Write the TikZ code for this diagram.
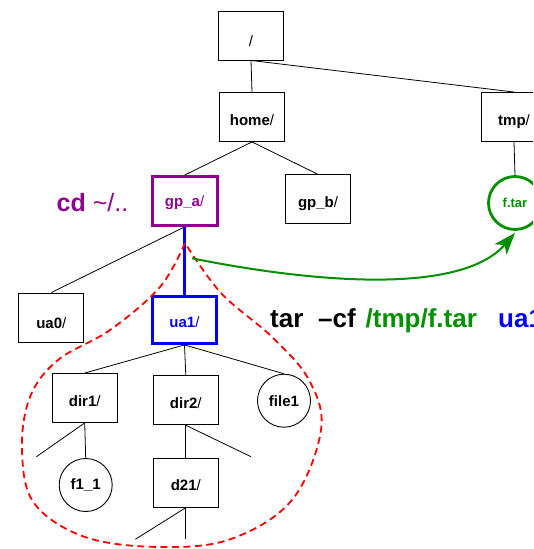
\documentclass[tikz,border=0pt]{standalone}
\usepackage{fontspec}
\setmainfont{Liberation Sans}
\usetikzlibrary{arrows.meta}
\definecolor{figpurple}{RGB}{144,0,144}
\definecolor{figgreen}{RGB}{0,144,0}
\newcommand\lblfont{\fontsize{15}{18}\selectfont}
\newcommand\dlabel[1]{\textbf{#1}/}
\begin{document}
\begin{tikzpicture}[x=1pt,y=-1pt,
  dirbox/.style={draw=black, line width=0.9pt, minimum width=65pt, minimum height=49pt,
    inner sep=0pt, text height=16pt, text depth=0pt, font=\lblfont},
  filecirc/.style={draw=black, circle, line width=0.9pt, minimum size=53pt,
    inner sep=0pt, font=\lblfont\bfseries},
  edge/.style={black, line width=0.8pt},
  bigtext/.style={anchor=base west, inner sep=0pt, font=\fontsize{26}{30}\selectfont\bfseries}
]
\useasboundingbox (0,0) rectangle (533,549);
\clip (0,0) rectangle (533,549);

% directory tree
\node[dirbox, text height=21pt] (root) at (251,35.5) {/};
\node[dirbox] (home) at (252,117) {\dlabel{home}};
\node[dirbox] (tmp) at (514,117) {\dlabel{tmp}};
\node[dirbox, draw=figpurple, line width=2.8pt, text=figpurple, text height=10pt] (gpa) at (184.6,201) {\dlabel{gp\_a}};
\node[dirbox] (gpb) at (318,199.3) {\dlabel{gp\_b}};
\node[filecirc, draw=figgreen, line width=2.8pt, text=figgreen, font=\fontsize{13}{15}\selectfont\bfseries] (ftar) at (515,203) {f.tar};
\node[dirbox, text height=22pt] (ua0) at (51.3,317.5) {\dlabel{ua0}};
\node[dirbox, draw=blue, line width=2.8pt, text=blue, minimum width=63.5pt, minimum height=47pt, text height=14pt] (ua1) at (184.5,320) {\dlabel{ua1}};
\node[dirbox] (dir1) at (84.7,398) {\dlabel{dir1}};
\node[dirbox] (dir2) at (185.8,400.3) {\dlabel{dir2}};
\node[filecirc] (file1) at (284,400.7) {file1};
\node[filecirc] (f11) at (85.7,485) {f1\_1};
\node[dirbox] (d21) at (185.8,482.7) {\dlabel{d21}};

% loose branch ends
\coordinate (dir1x) at (36.4,456.7);
\coordinate (dir2x) at (251,456.7);
\coordinate (d21x) at (135.3,539.3);
\coordinate (d21y) at (185.8,539.3);
\coordinate (gs) at (192,258.3);

\draw[edge] (root.south) -- (home.north);
\draw[edge] (root.south) -- (tmp.north);
\draw[edge] (home.south) -- (gpa.north);
\draw[edge] (home.south) -- (gpb.north);
\draw[edge] (tmp.south) -- (ftar.north);
\draw[edge] (gpa.south) -- (ua0.north);
\draw[blue, line width=2.8pt] (gpa.south) -- (ua1.north);
\draw[edge] (ua1.south) -- (dir1.north);
\draw[edge] (ua1.south) -- (dir2.north);
\draw[edge] (ua1.south) -- (file1.north);
\draw[edge] (dir1.south) -- (dir1x);
\draw[edge] (dir1.south) -- (f11.north);
\draw[edge] (dir2.south) -- (d21.north);
\draw[edge] (dir2.south) -- (dir2x);
\draw[edge] (d21.south) -- (d21x);
\draw[edge] (d21.south) -- (d21y);

% subtree that gets archived
\draw[red, line width=1.8pt, dash pattern=on 7pt off 4.5pt] plot[smooth, tension=0.6] coordinates {
  (185,243) (160,287) (110,330) (58,360) (30,397) (22,450) (34,503) (85,537)
  (160,547) (231,539) (292,500) (321,430) (309,380) (272,337) (221,293) (185,243)};

% archive arrow
\draw[figgreen, line width=2pt, -{Stealth[length=22pt, width=16pt, inset=6pt]}]
  (gs) .. controls (320,284) and (462,294) .. ([yshift=-2pt]ftar.south);

% commands
\node[anchor=base west, inner sep=0pt, text=figpurple, font=\fontsize{25}{30}\selectfont] (cdcmd) at (56.5,211.5) {\textbf{cd} \textasciitilde/..};
\node[bigtext] (cmdtar) at (270,327) {tar};
\node[bigtext] (cmdopt) at (318,327) {\textendash cf};
\node[bigtext, text=figgreen] (cmdpath) at (365.5,327) {/tmp/f.tar};
\node[bigtext, text=blue] (cmdsrc) at (498,327) {ua1/};
\end{tikzpicture}
\end{document}
